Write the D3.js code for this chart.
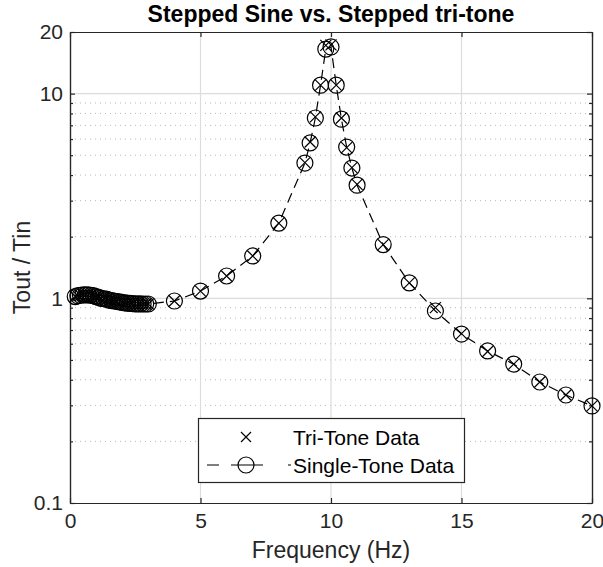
<!DOCTYPE html>
<html>
<head>
<meta charset="utf-8">
<script src="https://cdn.jsdelivr.net/npm/d3@7"></script>
<style>
body { margin: 0; background: #fff; }
svg { display: block; font-family: "Liberation Sans", Arial, sans-serif; }
</style>
</head>
<body>
<div id="chart"></div>
<script>
// single-tone stepped sine
var freqSingle = [0.2, 0.3, 0.4, 0.5, 0.6, 0.7, 0.8, 0.9, 1.0, 1.1, 1.2, 1.3, 1.4, 1.5, 1.6, 1.7, 1.8, 1.9, 2.0,
	2.1, 2.2, 2.3, 2.4, 2.5, 2.6, 2.7, 2.8, 2.9, 3.0,
	4, 5, 6, 7, 8, 9, 9.2, 9.4, 9.6, 9.8, 10, 10.2, 10.4, 10.6, 10.8, 11, 12, 13, 14, 15, 16, 17, 18, 19, 20];
var gainSingle = [1.02, 1.03, 1.035, 1.04, 1.04, 1.04, 1.035, 1.03, 1.02, 1.01, 1.0, 0.995, 0.99, 0.98, 0.975, 0.97, 0.965, 0.96, 0.955,
	0.95, 0.948, 0.945, 0.943, 0.94, 0.94, 0.94, 0.938, 0.938, 0.938,
	0.97, 1.085, 1.285, 1.61, 2.33, 4.58, 5.74, 7.6, 11.0, 16.5, 16.9, 11.0, 7.5, 5.48, 4.33, 3.57, 1.83, 1.19, 0.867, 0.669, 0.553, 0.477, 0.39, 0.337, 0.298];

// tri-tone data
var freqTri = freqSingle.slice();
var gainTri = [1.02, 1.03, 1.035, 1.04, 1.04, 1.04, 1.035, 1.03, 1.02, 1.01, 1.0, 0.995, 0.99, 0.98, 0.975, 0.97, 0.965, 0.96, 0.955,
	0.95, 0.948, 0.945, 0.943, 0.94, 0.94, 0.94, 0.938, 0.938, 0.938,
	0.97, 1.085, 1.285, 1.61, 2.33, 4.6, 5.8, 7.7, 11.0, 17.2, 17.3, 11.0, 7.6, 5.45, 4.35, 3.6, 1.83, 1.19, 0.9, 0.672, 0.55, 0.477, 0.39, 0.337, 0.298];

var xTicks = [0, 5, 10, 15, 20];
var yTicks = [0.1, 1, 10, 20];
var yMinor = [0.2, 0.3, 0.4, 0.5, 0.6, 0.7, 0.8, 0.9, 2, 3, 4, 5, 6, 7, 8, 9];

(function () {
var W = 603, H = 567;
var pl = 70, pr = 592, pt = 32, pb = 503;
var ink = "#262626";

var svg = d3.select("#chart").append("svg").attr("width", W).attr("height", H);

var x = d3.scaleLinear().domain([0, 20]).range([pl, pr]);
var y = d3.scaleLog().domain([0.1, 20]).range([pb, pt]);

// grid
var grid = svg.append("g");
grid.selectAll(".minor").data(yMinor).enter().append("line")
	.attr("x1", pl).attr("x2", pr)
	.attr("y1", d => y(d)).attr("y2", d => y(d))
	.attr("stroke", "#b8b8b8").attr("stroke-width", 1)
	.attr("stroke-dasharray", "1,4");
grid.selectAll(".gy").data([1, 10]).enter().append("line")
	.attr("x1", pl).attr("x2", pr)
	.attr("y1", d => y(d)).attr("y2", d => y(d))
	.attr("stroke", "#dcdcdc").attr("stroke-width", 1.2);
grid.selectAll(".gx").data([5, 10, 15]).enter().append("line")
	.attr("y1", pt).attr("y2", pb)
	.attr("x1", d => x(d)).attr("x2", d => x(d))
	.attr("stroke", "#dcdcdc").attr("stroke-width", 1.2);

// axes
var styleAxis = function (g) {
	g.select(".domain").attr("stroke", ink).attr("stroke-width", 1.2);
	g.selectAll(".tick line").attr("stroke", ink).attr("stroke-width", 1.2);
	g.selectAll("text").attr("fill", ink).style("font-size", "21px").style("font-family", "Liberation Sans, Arial, sans-serif");
};
svg.append("g").attr("transform", `translate(0,${pb})`)
	.call(d3.axisBottom(x).tickValues(xTicks).tickSizeInner(-5).tickSizeOuter(0).tickPadding(10).tickFormat(d3.format("d")))
	.call(styleAxis);
svg.append("g").attr("transform", `translate(0,${pt})`)
	.call(d3.axisTop(x).tickValues(xTicks).tickSizeInner(-5).tickSizeOuter(0).tickFormat(""))
	.call(styleAxis);
svg.append("g").attr("transform", `translate(${pl},0)`)
	.call(d3.axisLeft(y).tickValues(yTicks).tickSizeInner(-5).tickSizeOuter(0).tickPadding(7).tickFormat(d => d))
	.call(styleAxis);
svg.append("g").attr("transform", `translate(${pl},0)`)
	.call(d3.axisLeft(y).tickValues(yMinor).tickSizeInner(-3).tickSizeOuter(0).tickFormat(""))
	.call(styleAxis);
svg.append("g").attr("transform", `translate(${pr},0)`)
	.call(d3.axisRight(y).tickValues(yTicks).tickSizeInner(-5).tickSizeOuter(0).tickFormat(""))
	.call(styleAxis);
svg.append("g").attr("transform", `translate(${pr},0)`)
	.call(d3.axisRight(y).tickValues(yMinor).tickSizeInner(-3).tickSizeOuter(0).tickFormat(""))
	.call(styleAxis);

// data
var single = freqSingle.map((f, i) => ({f: f, v: gainSingle[i]}));
var tri = freqTri.map((f, i) => ({f: f, v: gainTri[i]}));

var line = d3.line().x(d => x(d.f)).y(d => y(d.v));
svg.append("path").datum(single)
	.attr("d", line)
	.attr("fill", "none").attr("stroke", "#000").attr("stroke-width", 1.2)
	.attr("stroke-dasharray", "10,6");

svg.append("g").selectAll("circle").data(single).enter().append("circle")
	.attr("cx", d => x(d.f)).attr("cy", d => y(d.v)).attr("r", 8)
	.attr("fill", "none").attr("stroke", "#000").attr("stroke-width", 1.2);

var cross = function (sel, s) {
	sel.append("path")
		.attr("d", `M${-s},${-s}L${s},${s}M${-s},${s}L${s},${-s}`)
		.attr("fill", "none").attr("stroke", "#000").attr("stroke-width", 1.2);
};
svg.append("g").selectAll("g").data(tri).enter().append("g")
	.attr("transform", d => `translate(${x(d.f)},${y(d.v)})`)
	.call(cross, 5.5);

// legend
var lg = svg.append("g");
lg.append("rect").attr("x", 198.5).attr("y", 418.5).attr("width", 266).attr("height", 64)
	.attr("fill", "#fff").attr("stroke", ink).attr("stroke-width", 1.2);
lg.append("g").attr("transform", "translate(246,437)").call(cross, 5);
lg.append("text").attr("x", 293).attr("y", 445).text("Tri-Tone Data")
	.attr("fill", "#000").style("font-size", "21px");
lg.append("line").attr("x1", 207).attr("x2", 291).attr("y1", 465).attr("y2", 465)
	.attr("stroke", "#000").attr("stroke-width", 1.2).attr("stroke-dasharray", "12,12,32,25,3");
lg.append("circle").attr("cx", 246).attr("cy", 465).attr("r", 8)
	.attr("fill", "none").attr("stroke", "#000").attr("stroke-width", 1.2);
lg.append("text").attr("x", 293).attr("y", 473).text("Single-Tone Data")
	.attr("fill", "#000").style("font-size", "21px");

// labels
svg.append("text").attr("x", (pl + pr) / 2).attr("y", 22)
	.attr("text-anchor", "middle").style("font-size", "23px").style("font-weight", "bold")
	.attr("fill", "#000").text("Stepped Sine vs. Stepped tri-tone");
svg.append("text").attr("x", (pl + pr) / 2).attr("y", 558)
	.attr("text-anchor", "middle").style("font-size", "23px")
	.attr("fill", ink).text("Frequency (Hz)");
svg.append("text").attr("transform", `translate(30,${(pt + pb) / 2}) rotate(-90)`)
	.attr("text-anchor", "middle").style("font-size", "23px")
	.attr("fill", ink).text("Tout / Tin");
})();
</script>
</body>
</html>
